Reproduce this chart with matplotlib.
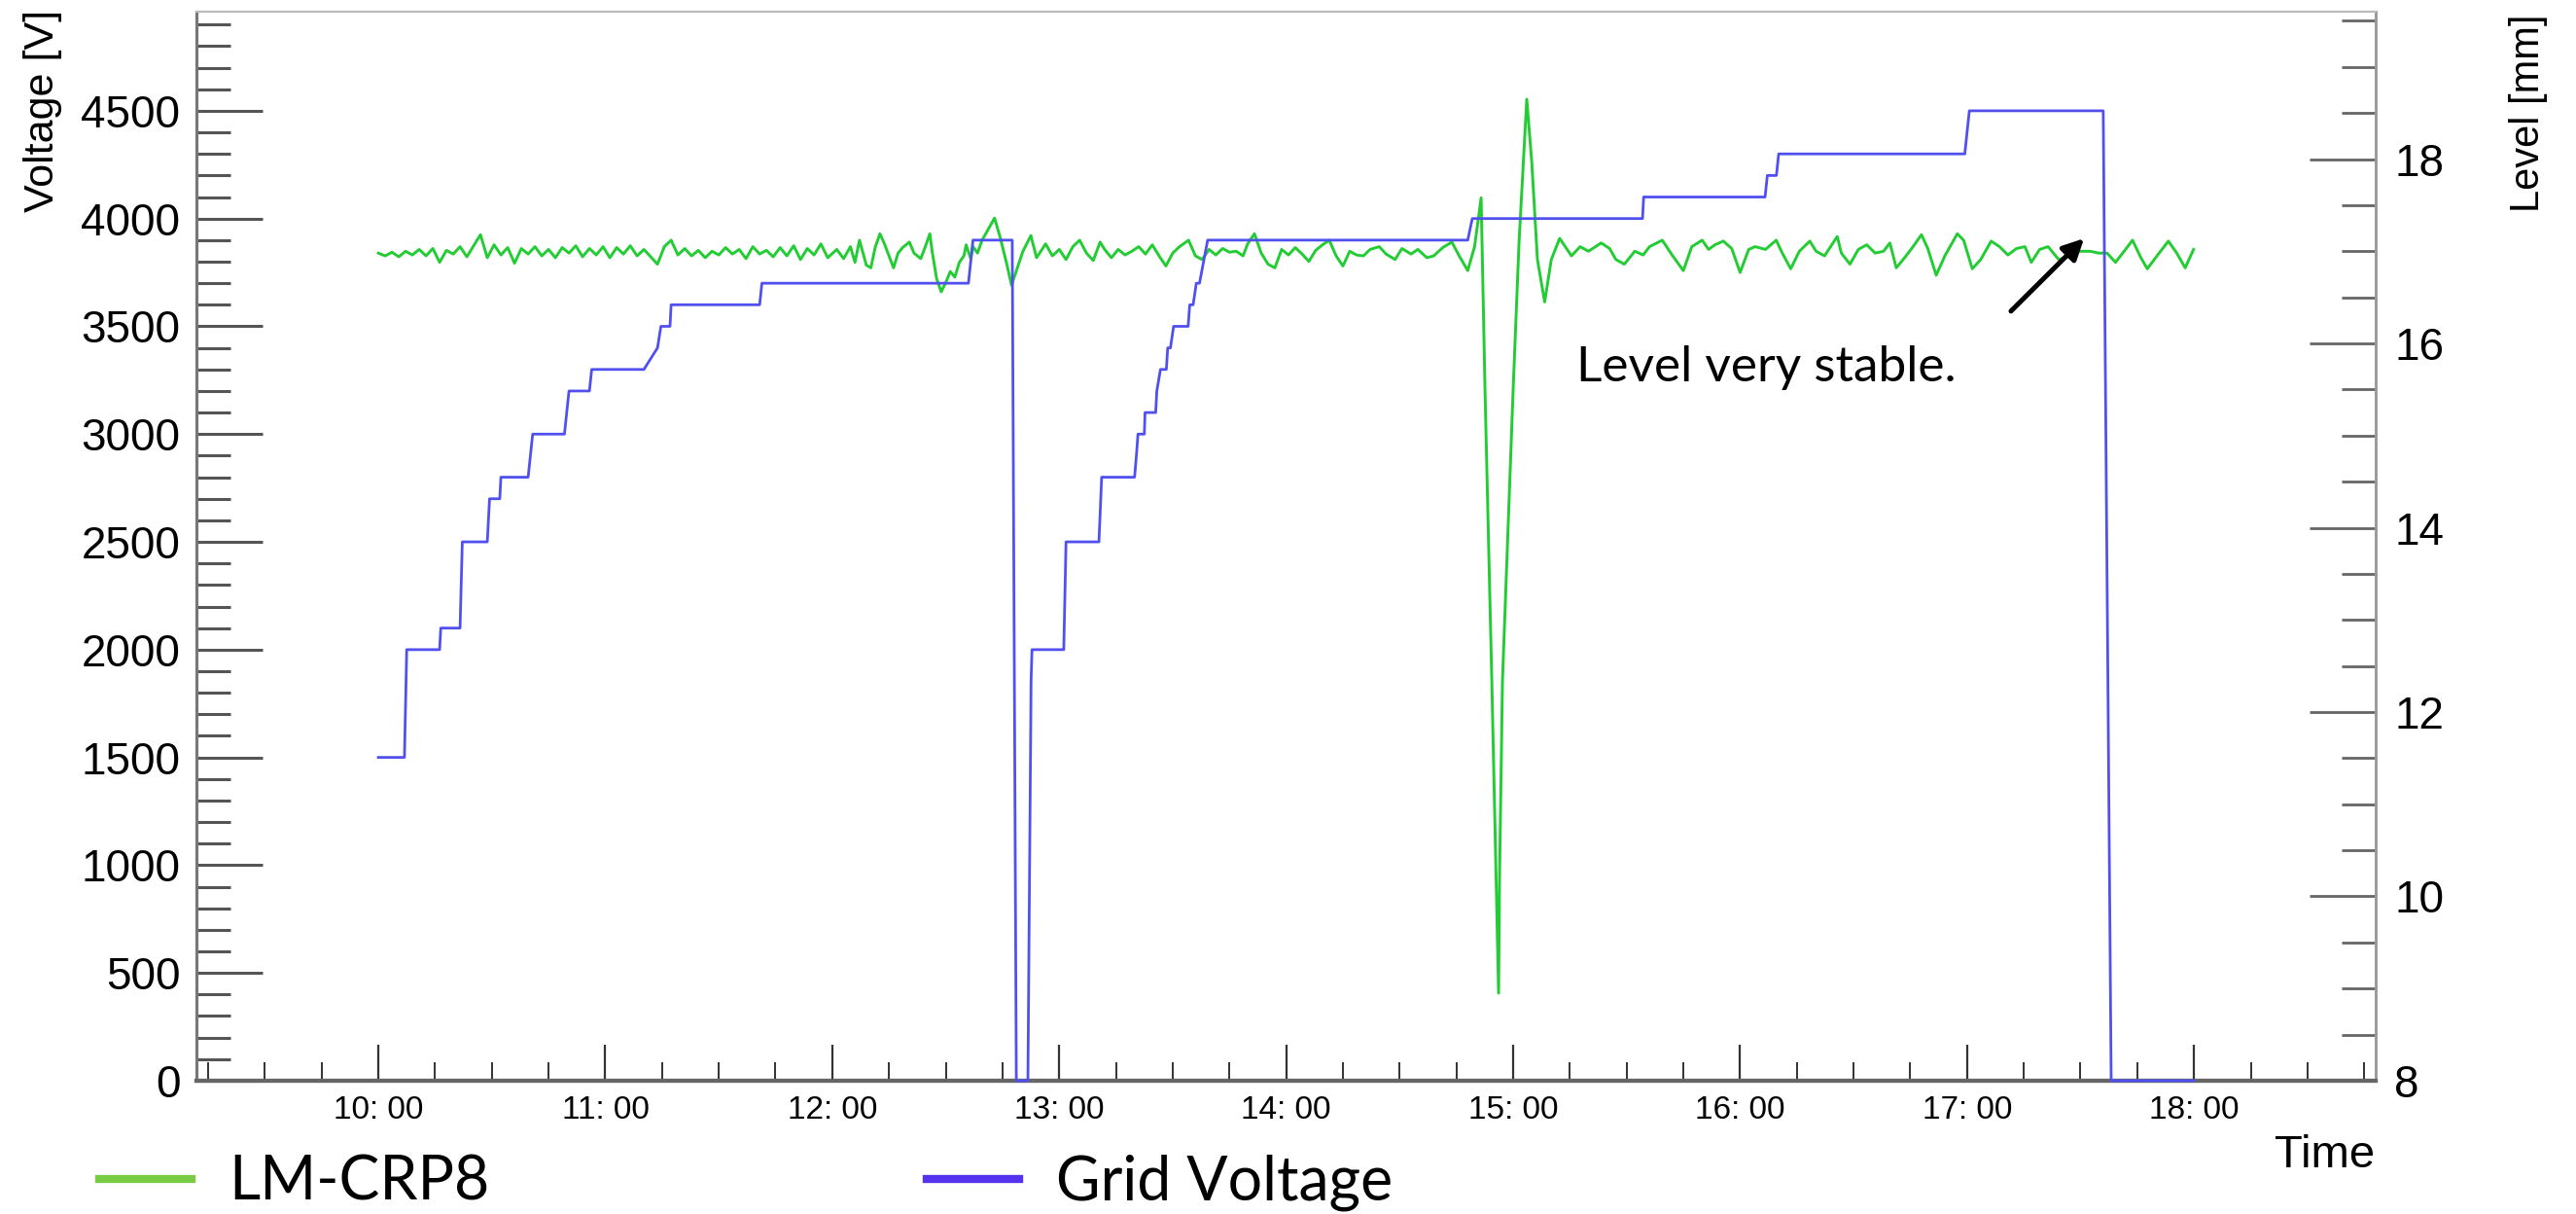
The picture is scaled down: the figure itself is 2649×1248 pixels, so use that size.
import matplotlib
matplotlib.use('Agg')
import matplotlib.pyplot as plt
from matplotlib.ticker import MultipleLocator, FuncFormatter
from matplotlib.lines import Line2D

plt.rcParams['font.family'] = ['Liberation Sans', 'DejaVu Sans']

# grid voltage, time in hours of the day
volt_time = [10.00, 10.115, 10.125, 10.27, 10.275, 10.36, 10.37, 10.48, 10.49, 10.535,
             10.54, 10.66, 10.68, 10.82, 10.84, 10.93, 10.94, 11.17, 11.23, 11.245,
             11.285, 11.29, 11.68, 11.69, 12.60, 12.62, 12.793, 12.811, 12.862, 12.876,
             12.88, 13.02, 13.03, 13.175, 13.187, 13.332, 13.34, 13.347, 13.375, 13.378,
             13.425, 13.43, 13.446, 13.472, 13.478, 13.49, 13.504, 13.568, 13.575, 13.59,
             13.604, 13.618, 13.654, 14.80, 14.82, 15.57, 15.575, 16.11, 16.12, 16.16,
             16.17, 16.99, 17.00, 17.01, 17.60, 17.635, 18.00]
volt_v = [1500, 1500, 2000, 2000, 2100, 2100, 2500, 2500, 2700, 2700,
          2800, 2800, 3000, 3000, 3200, 3200, 3300, 3300, 3400, 3500,
          3500, 3600, 3600, 3700, 3700, 3900, 3900, 0, 0, 1855,
          2000, 2000, 2500, 2500, 2800, 2800, 2900, 3000, 3000, 3100,
          3100, 3200, 3300, 3300, 3400, 3400, 3500, 3500, 3600, 3600,
          3700, 3700, 3900, 3900, 4000, 4000, 4100, 4100, 4200, 4200,
          4300, 4300, 4400, 4500, 4500, 0, 0]

# LM-CRP8 level sensor [mm]
level_time = [10.00, 10.03, 10.06, 10.09, 10.12, 10.15, 10.18, 10.21, 10.24, 10.27,
              10.30, 10.33, 10.36, 10.39, 10.42, 10.45, 10.48, 10.51, 10.54, 10.57,
              10.60, 10.63, 10.66, 10.69, 10.72, 10.75, 10.78, 10.81, 10.84, 10.87,
              10.90, 10.93, 10.96, 10.99, 11.02, 11.05, 11.08, 11.11, 11.14, 11.17,
              11.20, 11.23, 11.26, 11.29, 11.32, 11.35, 11.38, 11.41, 11.44, 11.47,
              11.50, 11.53, 11.56, 11.59, 11.62, 11.65, 11.68, 11.71, 11.74, 11.77,
              11.80, 11.83, 11.86, 11.89, 11.92, 11.95, 11.98,
              12.02, 12.05, 12.08, 12.10, 12.12, 12.15, 12.17, 12.19, 12.21, 12.23,
              12.25, 12.27, 12.29, 12.31, 12.34, 12.36, 12.39, 12.41, 12.43, 12.44,
              12.46, 12.48, 12.50, 12.52, 12.54, 12.56, 12.58, 12.59, 12.61, 12.62,
              12.64, 12.66, 12.69, 12.715, 12.74, 12.77, 12.79, 12.81, 12.84, 12.875,
              12.90, 12.94, 12.97, 13.00, 13.03, 13.06, 13.09, 13.12, 13.15, 13.18,
              13.20, 13.23, 13.26, 13.29, 13.32, 13.35, 13.38, 13.41, 13.44, 13.47,
              13.50, 13.53, 13.57, 13.60, 13.63, 13.66, 13.69, 13.72, 13.75, 13.78,
              13.81, 13.83, 13.86, 13.89, 13.92, 13.95, 13.98, 14.01, 14.04, 14.07,
              14.10, 14.13, 14.16, 14.19, 14.22, 14.25, 14.28, 14.31, 14.34, 14.37,
              14.41, 14.44, 14.48, 14.51, 14.55, 14.58, 14.62, 14.65, 14.69, 14.73,
              14.76, 14.80, 14.83, 14.859, 14.876, 14.906, 14.936, 14.940, 14.953, 15.000,
              15.026, 15.060, 15.082, 15.107, 15.139, 15.168, 15.205,
              15.257, 15.295, 15.332, 15.388, 15.425, 15.453, 15.490, 15.536, 15.573, 15.601,
              15.657, 15.703, 15.750, 15.787, 15.833, 15.861, 15.889, 15.926, 15.963, 16.000,
              16.038, 16.066, 16.112, 16.159, 16.186, 16.223, 16.261, 16.307, 16.335, 16.372,
              16.428, 16.446, 16.484, 16.521, 16.558, 16.595, 16.632, 16.660, 16.688, 16.725,
              16.762, 16.799, 16.827, 16.864, 16.902, 16.957, 16.985, 17.023, 17.060, 17.106,
              17.143, 17.180, 17.218, 17.255, 17.283, 17.320, 17.357, 17.404, 17.459, 17.496,
              17.543, 17.580, 17.617, 17.654, 17.692, 17.729, 17.766, 17.794, 17.840, 17.887,
              17.924, 17.961, 17.998]
level_mm = [16.98, 16.95, 16.99, 16.94, 17.00, 16.96, 17.02, 16.95, 17.03, 16.88,
            17.01, 16.97, 17.05, 16.94, 17.06, 17.18, 16.93, 17.07, 16.96, 17.04,
            16.87, 17.03, 16.97, 17.05, 16.95, 17.02, 16.93, 17.04, 16.98, 17.06,
            16.94, 17.03, 16.96, 17.05, 16.93, 17.04, 16.97, 17.06, 16.95, 17.02,
            16.94, 16.86, 17.05, 17.12, 16.96, 17.03, 16.95, 17.01, 16.93, 17.00,
            16.96, 17.04, 16.97, 17.02, 16.92, 17.05, 16.97, 17.01, 16.94, 17.04,
            16.95, 17.06, 16.91, 17.03, 16.96, 17.08, 16.93,
            17.02, 16.92, 17.05, 16.88, 17.12, 16.85, 16.82, 17.05, 17.19, 17.08,
            16.95, 16.82, 16.98, 17.04, 17.10, 16.98, 16.92, 17.05, 17.19, 17.00,
            16.70, 16.56, 16.66, 16.78, 16.72, 16.88, 16.95, 17.07, 16.92, 17.05,
            16.98, 17.12, 17.25, 17.36, 17.15, 16.85, 16.63, 16.78, 17.00, 17.17,
            16.93, 17.08, 16.95, 17.02, 16.91, 17.05, 17.12, 16.98, 16.90, 17.10,
            17.02, 16.93, 17.02, 16.96, 17.00, 17.05, 16.97, 17.07, 16.95, 16.84,
            16.98, 17.05, 17.12, 16.95, 16.91, 17.02, 16.96, 17.03, 16.99, 17.00,
            16.95, 17.08, 17.19, 16.98, 16.86, 16.82, 17.02, 16.96, 17.04, 16.97,
            16.89, 17.01, 17.07, 17.12, 16.95, 16.84, 17.00, 16.96, 16.95, 17.02,
            17.05, 16.97, 16.91, 17.03, 16.97, 17.02, 16.93, 16.95, 17.04, 17.10,
            16.96, 16.79, 17.05, 17.58, 15.50, 12.34, 8.95, 10.20, 12.34, 15.50,
            17.10, 18.65, 17.97, 16.91, 16.45, 16.91, 17.14,
            16.95, 17.05, 17.00, 17.09, 17.03, 16.91, 16.86, 17.00, 16.96, 17.05,
            17.12, 16.95, 16.79, 17.05, 17.12, 17.02, 17.07, 17.11, 17.03, 16.77,
            17.02, 17.05, 17.02, 17.12, 16.98, 16.81, 17.00, 17.11, 17.00, 16.95,
            17.16, 16.98, 16.86, 17.02, 17.07, 16.98, 17.00, 17.09, 16.82, 16.93,
            17.05, 17.18, 17.03, 16.74, 16.95, 17.19, 17.12, 16.81, 16.91, 17.11,
            17.05, 16.96, 17.03, 17.05, 16.88, 17.02, 17.05, 16.91, 16.95, 17.00,
            17.00, 16.98, 16.98, 16.88, 17.00, 17.12, 16.93, 16.81, 16.96, 17.11,
            16.98, 16.82, 17.02]

# annotation arrow (time, level)
arrow_tip = (17.524, 17.16)
arrow_tail = (17.185, 16.33)

green = '#22cc33'
blue = '#5050f0'

fig = plt.figure(figsize=(26.49, 12.48), dpi=100)
ax = fig.add_axes([0.0763, 0.1098, 0.8459, 0.8806])
ax2 = ax.twinx()
# voltage axes on top so the 0 V stretches are drawn over the frame
ax.set_zorder(ax2.get_zorder() + 1)
ax.patch.set_visible(False)

ax.plot(volt_time, volt_v, color=blue, lw=2.0, zorder=3, clip_on=False)
ax2.plot(level_time, level_mm, color=green, lw=2.1)

ax.set_xlim(9.199, 18.80)
ax.set_ylim(0, 4960)
ax2.set_ylim(8, 19.6)

# ROOT-like inward ticks
ax.xaxis.set_major_locator(MultipleLocator(1))
ax.xaxis.set_minor_locator(MultipleLocator(0.25))
ax.xaxis.set_major_formatter(FuncFormatter(lambda v, p: f"{int(round(v))}: 00"))
ax.yaxis.set_major_locator(MultipleLocator(500))
ax.yaxis.set_minor_locator(MultipleLocator(100))
ax2.yaxis.set_major_locator(MultipleLocator(2))
ax2.yaxis.set_minor_locator(MultipleLocator(0.5))

ax.tick_params(axis='x', which='major', direction='in', length=27, width=1.6,
               color='#333333', labelsize=24, pad=11)
ax.tick_params(axis='x', which='minor', direction='in', length=14, width=1.4, color='#333333')
ax.tick_params(axis='y', which='major', direction='in', length=49, width=2.2,
               color='#555555', labelsize=33, pad=12)
ax.tick_params(axis='y', which='minor', direction='in', length=25, width=2.2, color='#555555')
ax2.tick_params(axis='y', which='major', direction='in', length=49, width=2.0,
                color='#666666', labelsize=33, pad=14)
ax2.tick_params(axis='y', which='minor', direction='in', length=25, width=2.0, color='#666666')

for a in (ax, ax2):
    a.spines['top'].set_color('#bbbbbb')
    a.spines['top'].set_linewidth(1.5)
    a.spines['left'].set_color('#777777')
    a.spines['left'].set_linewidth(2.2)
    a.spines['right'].set_color('#999999')
    a.spines['right'].set_linewidth(1.8)
    a.spines['bottom'].set_color('#666666')
    a.spines['bottom'].set_linewidth(3.0)

fig.text(44 / 2649, 1 - 10 / 1248, 'Voltage [V]', rotation=90, ha='center', va='top', fontsize=31)
fig.text(2600 / 2649, 1 - 15 / 1248, 'Level [mm]', rotation=90, ha='center', va='top', fontsize=30)
fig.text(2442 / 2649, 1 - 1188 / 1248, 'Time', ha='right', va='center', fontsize=34)

ax2.annotate('', xy=arrow_tip, xytext=arrow_tail,
             arrowprops=dict(arrowstyle='-|>', lw=3.6, color='black', mutation_scale=32))
ax2.text(15.278, 15.59, 'Level very stable.', family='Lato', fontsize=37, va='baseline', ha='left')

handles = [Line2D([], [], color='#77cc44', lw=6), Line2D([], [], color='#5533ee', lw=6)]
fig.legend(handles, ['LM-CRP8', 'Grid Voltage'], loc='center left', ncol=2,
           bbox_to_anchor=(102 / 2649, 1 - 1216 / 1248), frameon=False,
           prop={'family': 'Lato', 'size': 45}, handlelength=1.52, handletextpad=0.61,
           columnspacing=7.2, borderpad=0, borderaxespad=0)

fig.savefig('out.png', dpi=100)
